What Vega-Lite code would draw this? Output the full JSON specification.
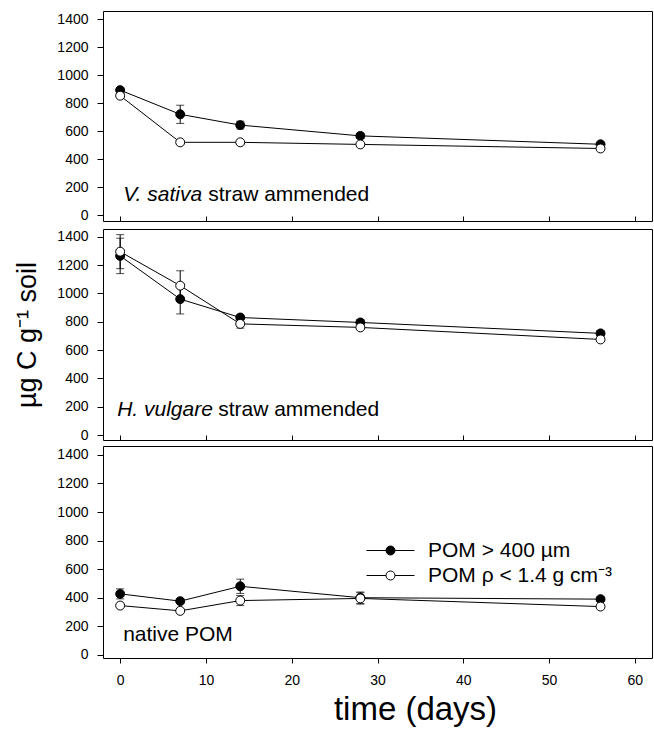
{
  "$schema": "https://vega.github.io/schema/vega-lite/v6.json",
  "padding": {"left": 13, "top": 10, "right": 0, "bottom": 2},
  "background": "white",
  "config": {
    "font": "Liberation Sans",
    "view": {"stroke": "black", "strokeWidth": 1},
    "axis": {"grid": false, "domain": false, "tickColor": "black", "labelColor": "black", "labelFontSize": 14, "titleColor": "black", "titleFontWeight": "normal", "labelFont": "Liberation Sans", "titleFont": "Liberation Sans", "labelOverlap": false, "format": "d", "tickCount": 30}
  },
  "datasets": {
    "pts": [
      {"panel": "sativa", "series": "POM > 400 µm", "day": 0, "value": 895, "err": 15},
      {"panel": "sativa", "series": "POM > 400 µm", "day": 7, "value": 722, "err": 65},
      {"panel": "sativa", "series": "POM > 400 µm", "day": 14, "value": 645, "err": 28},
      {"panel": "sativa", "series": "POM > 400 µm", "day": 28, "value": 568, "err": 18},
      {"panel": "sativa", "series": "POM > 400 µm", "day": 56, "value": 508, "err": 15},
      {"panel": "vulgare", "series": "POM > 400 µm", "day": 0, "value": 1265, "err": 125},
      {"panel": "vulgare", "series": "POM > 400 µm", "day": 7, "value": 960, "err": 105},
      {"panel": "vulgare", "series": "POM > 400 µm", "day": 14, "value": 830, "err": 15},
      {"panel": "vulgare", "series": "POM > 400 µm", "day": 28, "value": 795, "err": 20},
      {"panel": "vulgare", "series": "POM > 400 µm", "day": 56, "value": 718, "err": 20},
      {"panel": "native", "series": "POM > 400 µm", "day": 0, "value": 427, "err": 35},
      {"panel": "native", "series": "POM > 400 µm", "day": 7, "value": 376, "err": 15},
      {"panel": "native", "series": "POM > 400 µm", "day": 14, "value": 480, "err": 50},
      {"panel": "native", "series": "POM > 400 µm", "day": 28, "value": 400, "err": 40},
      {"panel": "native", "series": "POM > 400 µm", "day": 56, "value": 390, "err": 15},
      {"panel": "sativa", "series": "POM ρ < 1.4 g cm⁻³", "day": 0, "value": 855, "err": 10},
      {"panel": "sativa", "series": "POM ρ < 1.4 g cm⁻³", "day": 7, "value": 522, "err": 10},
      {"panel": "sativa", "series": "POM ρ < 1.4 g cm⁻³", "day": 14, "value": 522, "err": 10},
      {"panel": "sativa", "series": "POM ρ < 1.4 g cm⁻³", "day": 28, "value": 507, "err": 10},
      {"panel": "sativa", "series": "POM ρ < 1.4 g cm⁻³", "day": 56, "value": 478, "err": 10},
      {"panel": "vulgare", "series": "POM ρ < 1.4 g cm⁻³", "day": 0, "value": 1295, "err": 120},
      {"panel": "vulgare", "series": "POM ρ < 1.4 g cm⁻³", "day": 7, "value": 1055, "err": 105},
      {"panel": "vulgare", "series": "POM ρ < 1.4 g cm⁻³", "day": 14, "value": 785, "err": 30},
      {"panel": "vulgare", "series": "POM ρ < 1.4 g cm⁻³", "day": 28, "value": 760, "err": 15},
      {"panel": "vulgare", "series": "POM ρ < 1.4 g cm⁻³", "day": 56, "value": 675, "err": 15},
      {"panel": "native", "series": "POM ρ < 1.4 g cm⁻³", "day": 0, "value": 345, "err": 10},
      {"panel": "native", "series": "POM ρ < 1.4 g cm⁻³", "day": 7, "value": 308, "err": 10},
      {"panel": "native", "series": "POM ρ < 1.4 g cm⁻³", "day": 14, "value": 380, "err": 35},
      {"panel": "native", "series": "POM ρ < 1.4 g cm⁻³", "day": 28, "value": 395, "err": 40},
      {"panel": "native", "series": "POM ρ < 1.4 g cm⁻³", "day": 56, "value": 338, "err": 10}
    ]
  },
  "spacing": 5,
  "resolve": {"scale": {"fill": "independent"}, "legend": {"fill": "independent"}},
  "vconcat": [
    {
      "width": 549, "height": 210,
      "layer": [
        {
          "data": {"name": "pts"},
          "transform": [{"filter": "datum.panel === 'sativa'"}],
          "encoding": {
            "x": {"field": "day", "type": "quantitative", "scale": {"domain": [-2, 62], "nice": false, "zero": false},
                  "axis": {"values": [0, 10, 20, 30, 40, 50, 60], "labels": false, "tickSize": -5, "title": null}},
            "y": {"field": "value", "type": "quantitative", "scale": {"domain": [-40, 1460], "nice": false, "zero": false},
                  "axis": {"values": [0, 200, 400, 600, 800, 1000, 1200, 1400], "tickCount": 30, "labelOverlap": false, "tickSize": 6, "labelPadding": 9, "title": null}}
          },
          "layer": [
            {"mark": {"type": "line", "color": "black", "strokeWidth": 1}, "encoding": {"detail": {"field": "series"}}},
            {"mark": {"type": "errorbar", "color": "black", "ticks": {"size": 8, "color": "black"}}, "encoding": {"yError": {"field": "err"}}},
            {"mark": {"type": "point", "shape": "circle", "filled": true, "size": 80, "stroke": "black", "strokeWidth": 1, "opacity": 1},
             "encoding": {"fill": {"field": "series", "type": "nominal", "scale": {"domain": ["POM > 400 µm", "POM ρ < 1.4 g cm⁻³"], "range": ["black", "white"]}, "legend": null}}}
          ]
        },
        {
          "data": {"values": [{"a": "V. sativa", "b": "straw ammended"}]},
          "layer": [
            {"mark": {"type": "text", "fontSize": 21, "fontStyle": "italic", "align": "left", "baseline": "alphabetic", "dx": 3, "color": "black"},
             "encoding": {"x": {"datum": 0}, "y": {"datum": 100}, "text": {"field": "a"}}},
            {"mark": {"type": "text", "fontSize": 21, "align": "left", "baseline": "alphabetic", "dx": 88, "color": "black"},
             "encoding": {"x": {"datum": 0}, "y": {"datum": 100}, "text": {"field": "b"}}}
          ]
        }
      ]
    },
    {
      "spacing": 2,
      "resolve": {"scale": {"fill": "independent"}, "legend": {"fill": "independent"}},
      "vconcat": [
        {
          "width": 549, "height": 211,
          "layer": [
            {
              "data": {"name": "pts"},
              "transform": [{"filter": "datum.panel === 'vulgare'"}],
              "encoding": {
                "x": {"field": "day", "type": "quantitative", "scale": {"domain": [-2, 62], "nice": false, "zero": false},
                      "axis": {"values": [0, 10, 20, 30, 40, 50, 60], "labels": false, "tickSize": -5, "title": null}},
                "y": {"field": "value", "type": "quantitative", "scale": {"domain": [-35, 1455], "nice": false, "zero": false},
                      "axis": {"values": [0, 200, 400, 600, 800, 1000, 1200, 1400], "tickCount": 30, "labelOverlap": false, "tickSize": 6, "labelPadding": 9, "title": "µg C g⁻¹ soil", "titleFontSize": 27, "titlePadding": 15}}
              },
              "layer": [
                {"mark": {"type": "line", "color": "black", "strokeWidth": 1}, "encoding": {"detail": {"field": "series"}}},
                {"mark": {"type": "errorbar", "color": "black", "ticks": {"size": 8, "color": "black"}}, "encoding": {"yError": {"field": "err"}}},
                {"mark": {"type": "point", "shape": "circle", "filled": true, "size": 80, "stroke": "black", "strokeWidth": 1, "opacity": 1},
                 "encoding": {"fill": {"field": "series", "type": "nominal", "scale": {"domain": ["POM > 400 µm", "POM ρ < 1.4 g cm⁻³"], "range": ["black", "white"]}, "legend": null}}}
              ]
            },
            {
              "data": {"values": [{"a": "H. vulgare", "b": "straw ammended"}]},
              "layer": [
                {"mark": {"type": "text", "fontSize": 21, "fontStyle": "italic", "align": "left", "baseline": "alphabetic", "dx": -3, "color": "black"},
                 "encoding": {"x": {"datum": 0}, "y": {"datum": 135}, "text": {"field": "a"}}},
                {"mark": {"type": "text", "fontSize": 21, "align": "left", "baseline": "alphabetic", "dx": 98, "color": "black"},
                 "encoding": {"x": {"datum": 0}, "y": {"datum": 135}, "text": {"field": "b"}}}
              ]
            }
          ]
        },
        {
          "width": 549, "height": 212,
          "layer": [
            {
              "data": {"name": "pts"},
              "transform": [{"filter": "datum.panel === 'native'"}],
              "encoding": {
                "x": {"field": "day", "type": "quantitative", "scale": {"domain": [-2, 62], "nice": false, "zero": false},
                      "axis": {"values": [0, 10, 20, 30, 40, 50, 60], "tickSize": 5, "labelPadding": 10, "title": "time (days)", "titleFontSize": 33, "titlePadding": 6, "titleX": 312}},
                "y": {"field": "value", "type": "quantitative", "scale": {"domain": [-22, 1462], "nice": false, "zero": false},
                      "axis": {"values": [0, 200, 400, 600, 800, 1000, 1200, 1400], "tickCount": 30, "labelOverlap": false, "tickSize": 6, "labelPadding": 9, "title": null}}
              },
              "layer": [
                {"mark": {"type": "line", "color": "black", "strokeWidth": 1}, "encoding": {"detail": {"field": "series"}}},
                {"mark": {"type": "errorbar", "color": "black", "ticks": {"size": 8, "color": "black"}}, "encoding": {"yError": {"field": "err"}}},
                {"mark": {"type": "point", "shape": "circle", "filled": true, "size": 80, "stroke": "black", "strokeWidth": 1, "opacity": 1},
                 "encoding": {"fill": {"field": "series", "type": "nominal", "scale": {"domain": ["POM > 400 µm", "POM ρ < 1.4 g cm⁻³"], "range": ["black", "white"]},
                   "legend": {"orient": "none", "legendX": 277, "legendY": 94, "title": null, "padding": 0,
                     "symbolType": "M-2.4,0L-0.45,0M0.45,0L2.4,0M0.45,0A0.45,0.45 0 1,1 -0.45,0A0.45,0.45 0 1,1 0.45,0Z",
                     "symbolSize": 400, "symbolStrokeColor": "black", "symbolStrokeWidth": 1,
                     "labelFontSize": 21, "labelColor": "black", "labelFont": "Liberation Sans", "labelOffset": 27, "rowPadding": 3, "labelLimit": 0}}}}
              ]
            },
            {
              "data": {"values": [{"a": "native POM"}]},
              "mark": {"type": "text", "fontSize": 21, "align": "left", "baseline": "alphabetic", "dx": 3, "color": "black"},
              "encoding": {"x": {"datum": 0}, "y": {"datum": 97}, "text": {"field": "a"}}
            }
          ]
        }
      ]
    }
  ]
}
